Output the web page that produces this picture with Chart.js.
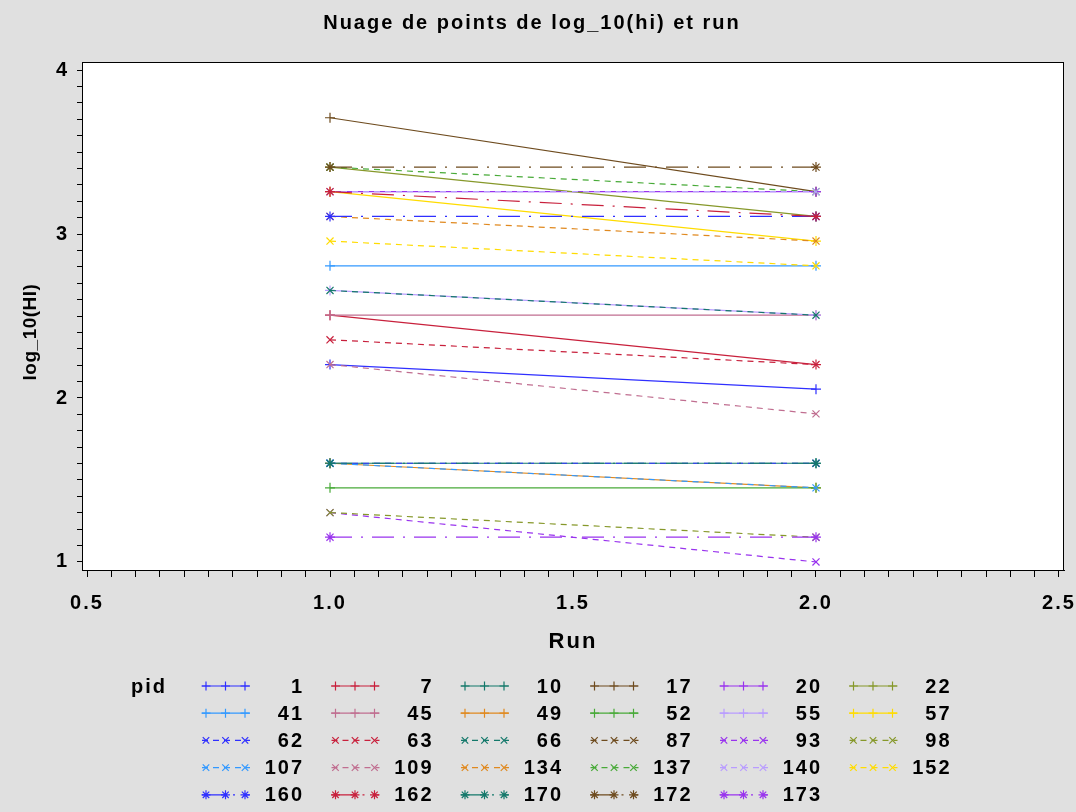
<!DOCTYPE html>
<html>
<head>
<meta charset="utf-8">
<title>Nuage de points de log_10(hi) et run</title>
<script src="https://cdn.jsdelivr.net/npm/chart.js@4/dist/chart.umd.min.js"></script>
<style>
  html, body { margin: 0; padding: 0; background: #e0e0e0; }
</style>
</head>
<body>
<canvas id="chart" width="1076" height="812"></canvas>
<script>
// pid groups and their log10(HI) at run 1 and run 2 (null = no value)
const pids = [1, 7, 10, 17, 20, 22, 41, 45, 49, 52, 55, 57,
  62, 63, 66, 87, 93, 98, 107, 109, 134, 137, 140, 152,
  160, 162, 170, 172, 173];
const runs = [1, 2];
const hiRun1 = [2.204, 2.505, 1.602, 3.709, 3.258, 3.408, 2.806, 2.505, 1.602, 1.452, 2.656, 3.258,
  1.602, 2.355, 2.656, 3.408, 1.301, 1.301, 1.602, 2.204, 3.107, 3.408, 3.258, 2.957,
  3.107, 3.258, 1.602, 3.408, 1.151];
const hiRun2 = [2.054, 2.204, 1.602, 3.258, 3.258, 3.107, 2.806, 2.505, 1.452, 1.452, 2.505, 2.957,
  1.602, 2.204, 2.505, null, 1.000, 1.151, 1.452, 1.903, 2.957, 3.258, 3.258, 2.806,
  3.107, 3.107, 1.602, 3.408, 1.151];
const xTickLabels = ['0.5', '1.0', '1.5', '2.0', '2.5'];
const yTickLabels = ['1', '2', '3', '4'];

const palette = ['#2f2fff', '#c8203c', '#13786a', '#6e4b1e', '#9933ee', '#86982a',
  '#3399ff', '#c06e90', '#e0891f', '#48aa38', '#b99cff', '#ffdc00'];
const MARKERS = ['cross', 'crossRot', 'star'];
const DASHES = [[], [6, 5], [22, 9, 2, 9]];
const FONT = "'Liberation Sans', Arial, sans-serif";
const SPACING = '2px';

const datasets = pids.map((pid, i) => {
  const g = Math.floor(i / 12);
  const color = palette[i % 12];
  return {
    label: String(pid),
    data: runs.map((r, k) => ({ x: r, y: k === 0 ? hiRun1[i] : hiRun2[i] })),
    showLine: true,
    spanGaps: false,
    borderColor: color,
    backgroundColor: color,
    borderWidth: 1.2,
    borderDash: DASHES[g],
    pointStyle: MARKERS[g],
    pointRadius: 5,
    pointBorderWidth: 1.2,
    pointBorderColor: color,
    order: -i,
  };
});

function matchLabel(list, value) {
  const t = list.find((s) => Math.abs(Number(s) - value) < 1e-6);
  return t || '';
}

function drawMarker(ctx, style, x, y, r) {
  ctx.beginPath();
  if (style === 'cross' || style === 'star') {
    ctx.moveTo(x - r, y); ctx.lineTo(x + r, y);
    ctx.moveTo(x, y - r); ctx.lineTo(x, y + r);
  }
  if (style === 'crossRot' || style === 'star') {
    const d = r * 0.72;
    ctx.moveTo(x - d, y - d); ctx.lineTo(x + d, y + d);
    ctx.moveTo(x - d, y + d); ctx.lineTo(x + d, y - d);
  }
  ctx.stroke();
}

const frame = {
  id: 'frame',
  beforeUpdate(chart) {
    chart.ctx.letterSpacing = SPACING;
  },
  beforeDraw(chart) {
    const { ctx, chartArea: a } = chart;
    ctx.letterSpacing = SPACING;
    ctx.save();
    ctx.fillStyle = '#e0e0e0';
    ctx.fillRect(0, 0, chart.width, chart.height);
    ctx.fillStyle = '#ffffff';
    ctx.fillRect(a.left, a.top, a.right - a.left, a.bottom - a.top);
    ctx.restore();
  },
  afterDraw(chart) {
    const { ctx, chartArea: a } = chart;
    ctx.save();
    ctx.strokeStyle = '#000';
    ctx.lineWidth = 1;
    ctx.strokeRect(a.left + 0.5, a.top + 0.5, a.right - a.left - 1, a.bottom - a.top);

    // y axis title
    ctx.letterSpacing = '0.5px';
    ctx.fillStyle = '#000';
    ctx.font = 'bold 19px ' + FONT;
    ctx.textAlign = 'center';
    ctx.textBaseline = 'middle';
    ctx.translate(31, 332);
    ctx.rotate(-Math.PI / 2);
    ctx.fillText('log_10(HI)', 0, 0);
    ctx.restore();

    // legend, six columns
    ctx.save();
    ctx.letterSpacing = SPACING;
    ctx.font = 'bold 20px ' + FONT;
    ctx.fillStyle = '#000';
    ctx.textBaseline = 'middle';
    ctx.textAlign = 'left';
    ctx.fillText('pid', 131, 687);
    ctx.textAlign = 'right';
    chart.data.datasets.forEach((ds, i) => {
      const col = i % 6;
      const row = Math.floor(i / 6);
      const x0 = 202 + col * 129.5;
      const y = 686 + row * 27.2;
      ctx.strokeStyle = ds.borderColor;
      ctx.lineWidth = 1.2;
      ctx.setLineDash(ds.borderDash);
      ctx.beginPath();
      ctx.moveTo(x0, y);
      ctx.lineTo(x0 + 48, y);
      ctx.stroke();
      ctx.setLineDash([]);
      [4, 23.5, 43].forEach((dx) => drawMarker(ctx, ds.pointStyle, x0 + dx, y, 4.5));
      ctx.fillText(ds.label, x0 + 102, y + 1);
    });
    ctx.restore();
  },
};

new Chart(document.getElementById('chart'), {
  type: 'scatter',
  data: { datasets },
  options: {
    responsive: false,
    animation: false,
    layout: { padding: { left: 0, right: 12, top: 0, bottom: 157 } },
    plugins: {
      legend: { display: false },
      tooltip: { enabled: false },
      title: {
        display: true,
        text: 'Nuage de points de log_10(hi) et run',
        color: '#000',
        font: { family: FONT, size: 20, weight: 'bold' },
        padding: { top: 11, bottom: 27 },
      },
    },
    scales: {
      x: {
        type: 'linear',
        min: 0.4897,
        max: 2.5103,
        afterBuildTicks(scale) {
          const t = [];
          for (let k = 0; k <= 40; k++) t.push({ value: 0.5 + k * 0.05 });
          scale.ticks = t;
        },
        afterFit(scale) {
          scale.height = 85;
          scale.paddingLeft = 0;
          scale.paddingRight = 0;
        },
        ticks: {
          autoSkip: false,
          maxRotation: 0,
          padding: 14,
          color: '#000',
          font: { family: FONT, size: 20, weight: 'bold' },
          callback: (v) => matchLabel(xTickLabels, v),
        },
        grid: { drawOnChartArea: false, tickLength: 7, tickColor: '#000' },
        border: { display: true, color: '#000' },
        title: {
          display: true,
          text: 'Run',
          color: '#000',
          font: { family: FONT, size: 22, weight: 'bold' },
          padding: { top: 0, bottom: 0 },
        },
      },
      y: {
        type: 'linear',
        min: 0.951,
        max: 4.049,
        afterBuildTicks(scale) {
          const t = [];
          for (let k = 0; k <= 30; k++) t.push({ value: 1 + k * 0.1 });
          scale.ticks = t;
        },
        afterFit(scale) {
          scale.width = 82;
          scale.paddingTop = 0;
          scale.paddingBottom = 0;
        },
        ticks: {
          autoSkip: false,
          padding: 8,
          color: '#000',
          font: { family: FONT, size: 20, weight: 'bold' },
          callback: (v) => matchLabel(yTickLabels, v),
        },
        grid: { drawOnChartArea: false, tickLength: 5, tickColor: '#000' },
        border: { display: true, color: '#000' },
      },
    },
  },
  plugins: [frame],
});
</script>
</body>
</html>
